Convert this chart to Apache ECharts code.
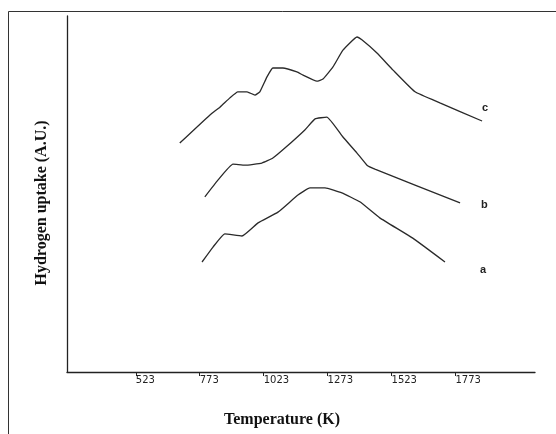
<!DOCTYPE html>
<html>
<head>
<meta charset="utf-8">
<script src="https://cdn.jsdelivr.net/npm/echarts@6/dist/echarts.min.js"></script>
<style>
html,body{margin:0;padding:0;background:#fff;}
#chart{width:556px;height:434px;}
</style>
</head>
<body>
<div id="chart"></div>
<script>
// Temperature ticks (K)
var tickLabels = [523, 773, 1023, 1273, 1523, 1773];

// Curve a: [temperature K, uptake A.U.]
var curveA = [[782,30.9],[825,35.1],[871,38.8],[938,38.2],[1001,41.9],[1079,44.9],[1157,49.7],[1204,51.7],[1263,51.7],[1329,50.3],[1399,47.8],[1477,43.3],[1606,37.6],[1732,30.9]];
// Curve b
var curveB = [[793,49.2],[844,53.9],[903,58.4],[950,58.1],[1016,58.7],[1059,60.1],[1106,62.9],[1184,68.0],[1224,71.1],[1270,71.6],[1333,66.0],[1388,61.5],[1427,58.1],[1458,57.0],[1791,47.5]];
// Curve c
var curveC = [[695,64.3],[813,72.2],[852,74.4],[891,77.0],[922,78.7],[958,78.7],[989,77.8],[1008,78.7],[1036,82.9],[1059,85.4],[1098,85.4],[1153,84.3],[1177,83.4],[1231,81.7],[1255,82.3],[1294,85.7],[1333,90.4],[1388,94.1],[1407,93.3],[1466,89.6],[1529,84.8],[1615,78.7],[1712,75.6],[1877,70.5]];

var seriesNames = ['a', 'b', 'c'];

var chart = echarts.init(document.getElementById('chart'));

function lineSeries(name, data, offset) {
  return {
    name: name,
    type: 'line',
    data: data,
    smooth: 0.12,
    symbol: 'none',
    lineStyle: {color: '#2a2a2a', width: 1.3},
    endLabel: {
      show: true,
      formatter: name,
      distance: 0,
      offset: offset,
      fontFamily: 'Liberation Sans',
      fontWeight: 'bold',
      fontSize: 11,
      color: '#222'
    },
    animation: false
  };
}

chart.setOption({
  animation: false,
  backgroundColor: '#fff',
  grid: {left: 67, right: 21, top: 16, bottom: 62},
  xAxis: {
    type: 'value',
    min: 254,
    max: 2084,
    axisLine: {show: true, lineStyle: {color: '#222', width: 1.3}},
    axisTick: {show: true, customValues: tickLabels, length: 4, lineStyle: {color: '#222', width: 1}},
    axisLabel: {
      show: true,
      customValues: tickLabels,
      formatter: function (v) { return String(v); },
      align: 'left',
      margin: 3,
      fontFamily: 'DejaVu Sans',
      fontSize: 10,
      color: '#222'
    },
    splitLine: {show: false}
  },
  yAxis: {
    type: 'value',
    min: 0,
    max: 100,
    axisLine: {show: true, lineStyle: {color: '#222', width: 1.3}},
    axisTick: {show: false},
    axisLabel: {show: false},
    splitLine: {show: false}
  },
  series: [
    lineSeries(seriesNames[0], curveA, [35, 8]),
    lineSeries(seriesNames[1], curveB, [21, 2]),
    lineSeries(seriesNames[2], curveC, [0, -13])
  ],
  graphic: [
    {
      type: 'rect',
      shape: {x: 8.5, y: 11.5, width: 600, height: 500},
      style: {fill: null, stroke: '#333', lineWidth: 1},
      silent: true,
      z: -1
    },
    {
      type: 'text',
      x: 282, y: 420,
      style: {
        text: 'Temperature (K)',
        font: 'bold 16px "Liberation Serif"',
        fill: '#111',
        textAlign: 'center',
        textVerticalAlign: 'middle'
      }
    },
    {
      type: 'text',
      x: 42, y: 203,
      rotation: Math.PI / 2,
      style: {
        text: 'Hydrogen uptake (A.U.)',
        font: 'bold 16px "Liberation Serif"',
        fill: '#111',
        textAlign: 'center',
        textVerticalAlign: 'middle'
      }
    }
  ]
});
</script>
</body>
</html>
